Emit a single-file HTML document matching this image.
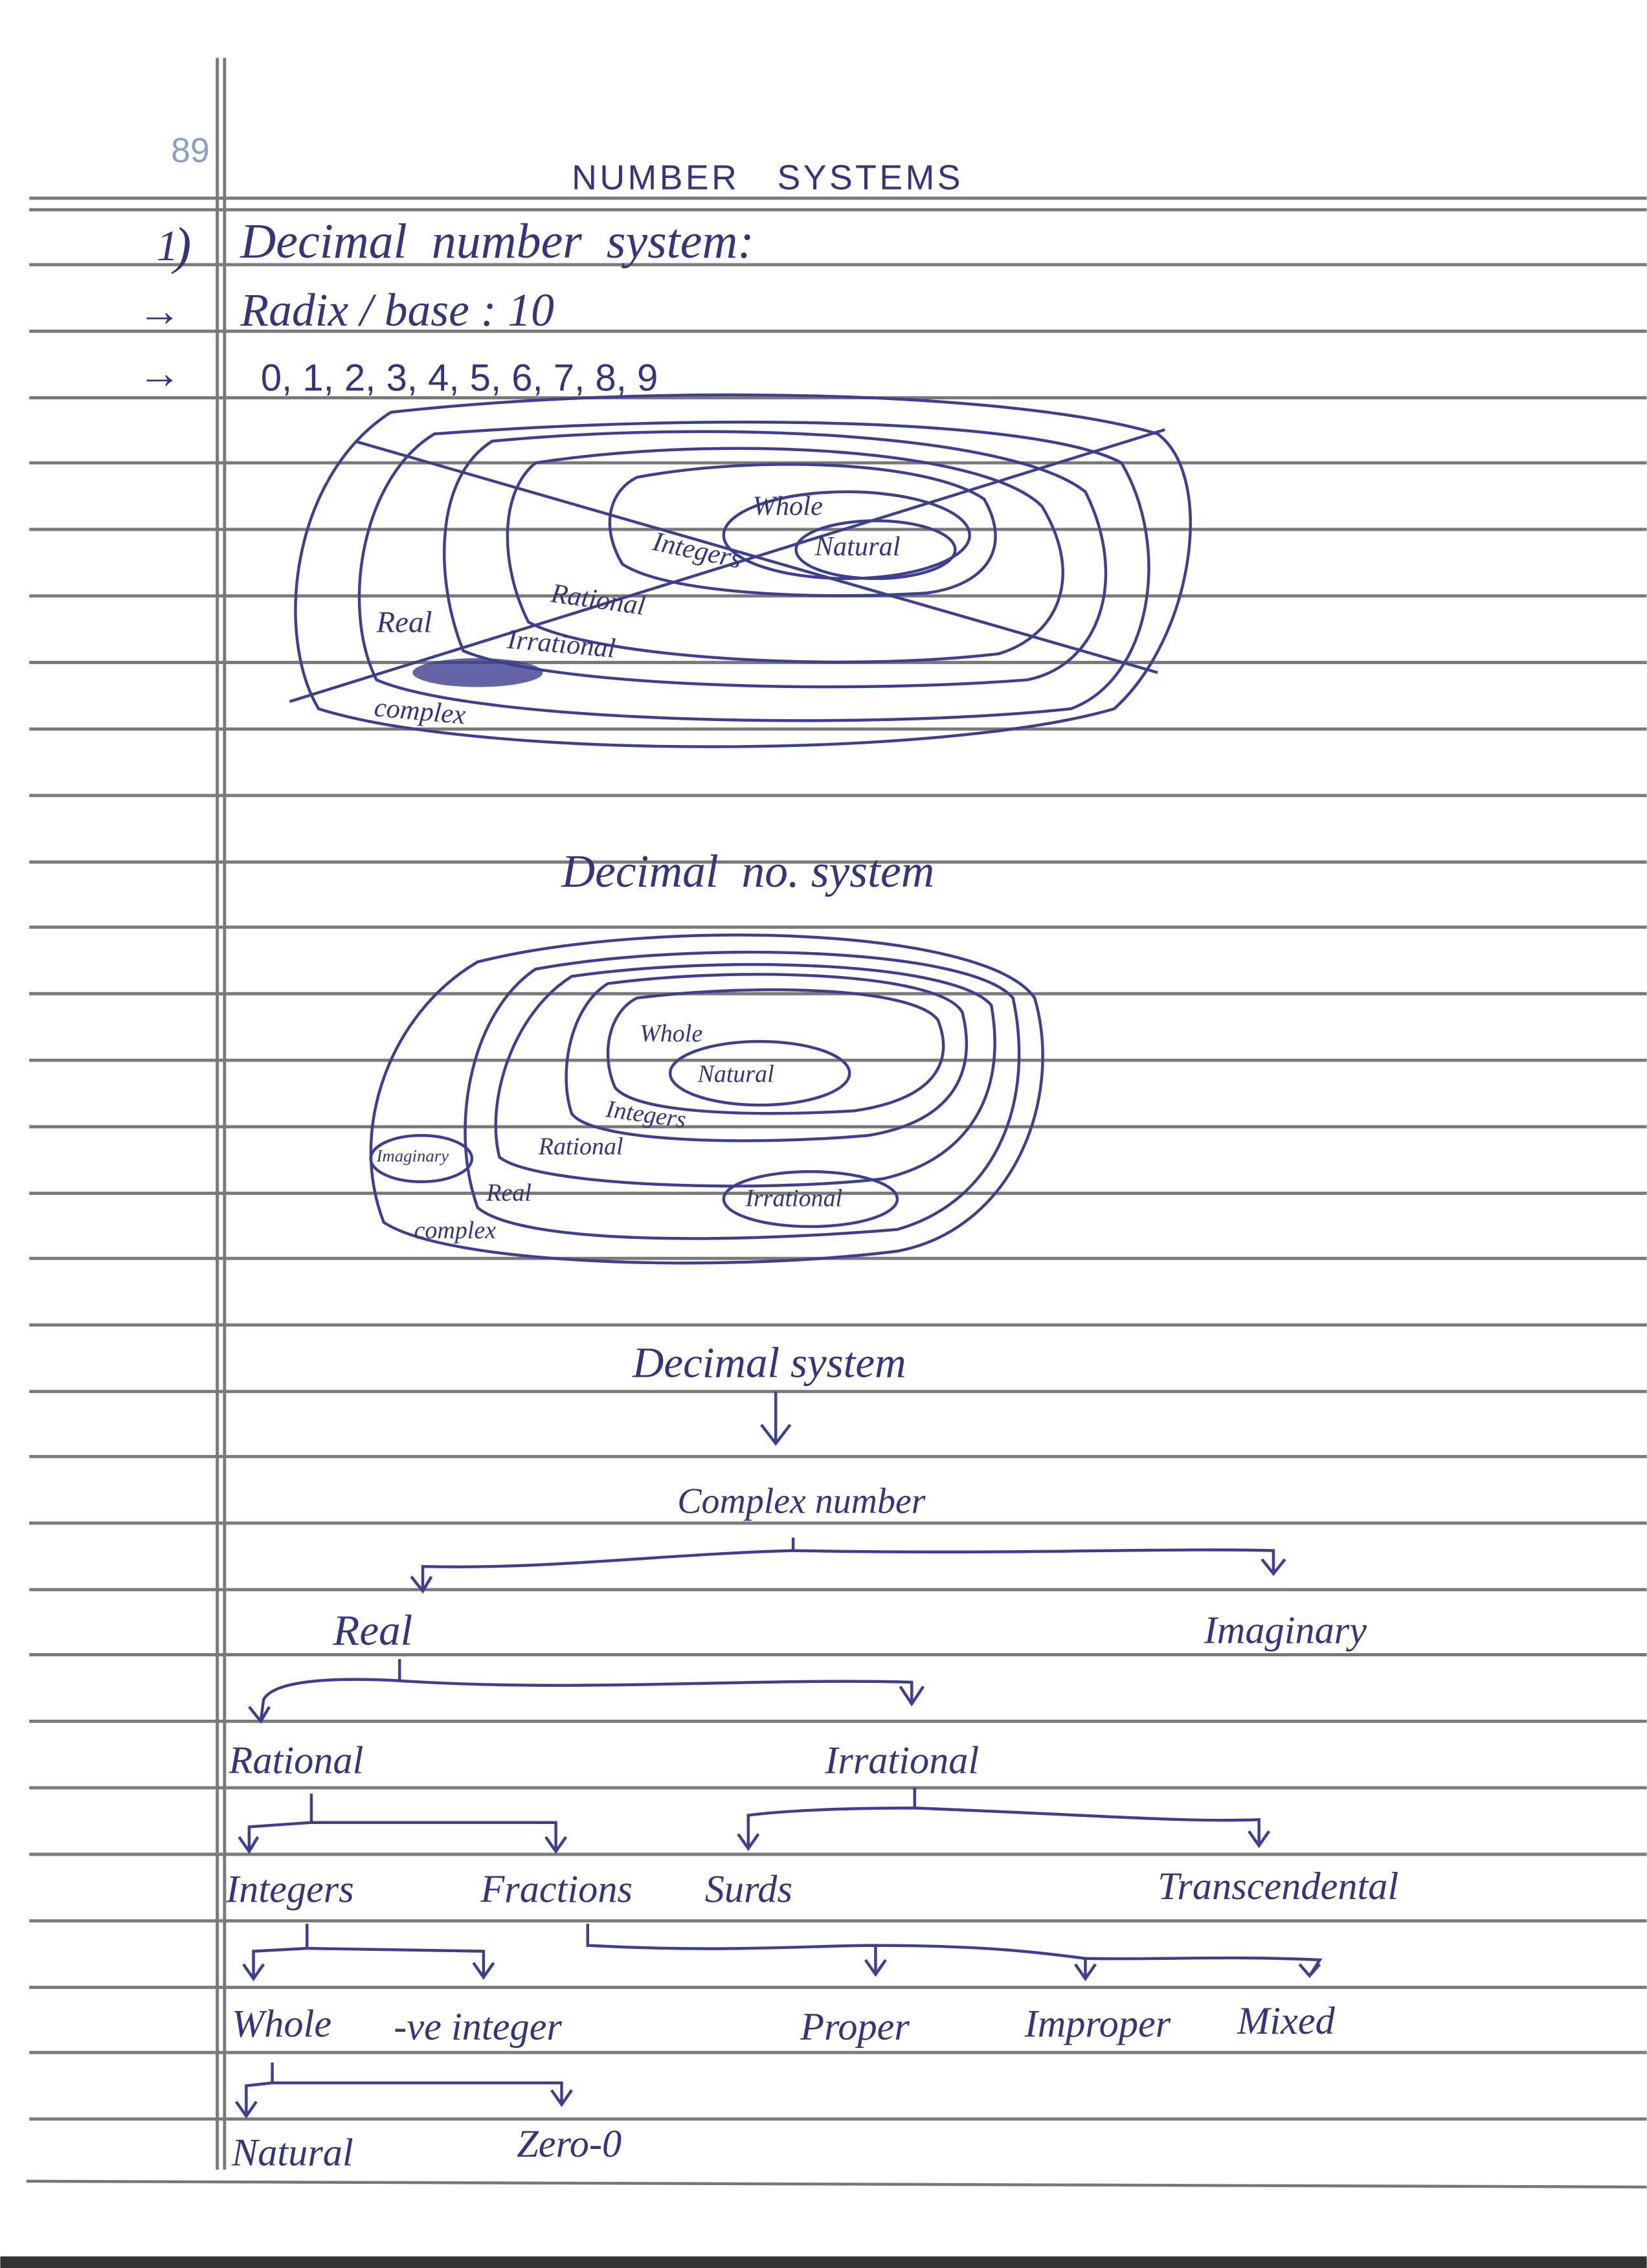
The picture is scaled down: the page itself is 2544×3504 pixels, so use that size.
<!DOCTYPE html>
<html><head><meta charset="utf-8"><style>
html,body{margin:0;padding:0;background:#fff;}
svg{display:block;}
text{font-family:"Liberation Serif",serif;font-style:italic;fill:#35357a;}
.s{font-family:"Liberation Sans",sans-serif;font-style:normal;}
</style></head><body>
<svg width="2544" height="3504" viewBox="0 0 1138 1568" xmlns="http://www.w3.org/2000/svg">
<rect x="0" y="0" width="1138" height="1568" fill="#fff"/>
<rect x="0" y="1560" width="1138" height="8" fill="#333"/>
<path d="M18 1508 L1138 1512" stroke="#777" stroke-width="2"/>
<g stroke="#7a7a7a" stroke-width="2.2">
<line x1="20" y1="137" x2="1138" y2="137"/>
<line x1="20" y1="145" x2="1138" y2="145"/>
<line x1="20" y1="183" x2="1138" y2="183"/><line x1="20" y1="229" x2="1138" y2="229"/>
<line x1="20" y1="275" x2="1138" y2="275"/><line x1="20" y1="320" x2="1138" y2="320"/>
<line x1="20" y1="366" x2="1138" y2="366"/><line x1="20" y1="412" x2="1138" y2="412"/>
<line x1="20" y1="458" x2="1138" y2="458"/><line x1="20" y1="504" x2="1138" y2="504"/>
<line x1="20" y1="550" x2="1138" y2="550"/><line x1="20" y1="596" x2="1138" y2="596"/>
<line x1="20" y1="641" x2="1138" y2="641"/><line x1="20" y1="687" x2="1138" y2="687"/>
<line x1="20" y1="733" x2="1138" y2="733"/><line x1="20" y1="779" x2="1138" y2="779"/>
<line x1="20" y1="825" x2="1138" y2="825"/><line x1="20" y1="870" x2="1138" y2="870"/>
<line x1="20" y1="916" x2="1138" y2="916"/><line x1="20" y1="962" x2="1138" y2="962"/>
<line x1="20" y1="1007" x2="1138" y2="1007"/><line x1="20" y1="1053" x2="1138" y2="1053"/>
<line x1="20" y1="1099" x2="1138" y2="1099"/><line x1="20" y1="1144" x2="1138" y2="1144"/>
<line x1="20" y1="1190" x2="1138" y2="1190"/><line x1="20" y1="1236" x2="1138" y2="1236"/>
<line x1="20" y1="1282" x2="1138" y2="1282"/><line x1="20" y1="1328" x2="1138" y2="1328"/>
<line x1="20" y1="1374" x2="1138" y2="1374"/><line x1="20" y1="1419" x2="1138" y2="1419"/>
<line x1="20" y1="1465" x2="1138" y2="1465"/>
<line x1="150" y1="40" x2="150" y2="1500"/>
<line x1="155" y1="40" x2="155" y2="1500"/>
</g>
<text x="118" y="112" class="s" font-size="24" style="fill:#8aa0c0">89</text>
<text x="395" y="131" class="s" font-size="24" letter-spacing="2">NUMBER&#160;&#160;&#160;SYSTEMS</text>
<text x="108" y="180" font-size="30">1</text><text x="120" y="182" font-size="36">)</text>
<text x="166" y="178" font-size="34">Decimal&#160; number&#160; system:</text>
<text x="95" y="225" font-size="30">→</text>
<text x="166" y="225" font-size="32">Radix / base : 10</text>
<text x="95" y="268" font-size="30">→</text>
<text x="180" y="270" class="s" font-size="26">0, 1, 2, 3, 4, 5, 6, 7, 8, 9</text>
<g fill="none" stroke="#3f3f90" stroke-width="2">
<path d="M270 285 C450 265 700 270 800 300 C840 330 825 440 770 490 C650 525 330 525 220 490 C190 440 200 330 270 285Z"/>
<path d="M300 300 C500 285 720 290 775 320 C810 380 795 470 740 490 C600 505 330 500 260 470 C235 420 250 330 300 300Z"/>
<path d="M340 305 C500 290 700 300 750 340 C780 400 760 460 710 470 C580 480 380 475 320 450 C300 400 300 330 340 305Z"/>
<path d="M370 320 C500 300 680 310 720 350 C750 400 730 440 690 452 C580 465 410 455 365 430 C345 390 345 340 370 320Z"/>
<path d="M440 330 C520 315 640 318 680 345 C700 380 680 405 640 410 C560 415 460 410 430 390 C415 365 420 340 440 330Z"/>
<ellipse cx="585" cy="370" rx="85" ry="30"/>
<ellipse cx="605" cy="380" rx="55" ry="20"/>
<line x1="245" y1="305" x2="800" y2="465"/>
<line x1="200" y1="485" x2="805" y2="297"/>
</g>
<ellipse cx="330" cy="465" rx="45" ry="10" fill="#3f3f90" opacity="0.8"/>
<g font-size="19">
<text x="520" y="356">Whole</text>
<text x="563" y="384">Natural</text>
<text x="450" y="380" transform="rotate(12 450 380)">Integers</text>
<text x="380" y="416" transform="rotate(8 380 416)">Rational</text>
<text x="350" y="448" transform="rotate(5 350 448)">Irrational</text>
<text x="260" y="437" font-size="21">Real</text>
<text x="258" y="495" transform="rotate(5 258 495)">complex</text>
</g>
<text x="388" y="613" font-size="32">Decimal&#160; no. system</text>
<g fill="none" stroke="#3f3f90" stroke-width="2">
<path d="M330 665 C450 635 680 640 715 690 C735 760 700 850 620 865 C500 880 310 875 265 845 C240 780 270 700 330 665Z"/>
<path d="M370 670 C480 650 670 655 700 690 C715 760 690 830 620 850 C500 860 360 860 330 835 C310 780 325 700 370 670Z"/>
<path d="M395 675 C500 660 660 665 685 695 C695 750 675 800 610 815 C520 825 370 820 345 800 C335 760 355 700 395 675Z"/>
<path d="M420 680 C510 668 650 672 665 700 C675 740 660 775 600 785 C520 792 410 790 395 770 C385 740 395 695 420 680Z"/>
<path d="M440 690 C520 680 630 682 648 705 C660 735 645 760 590 768 C520 772 440 770 425 752 C415 730 420 700 440 690Z"/>
<ellipse cx="525" cy="742" rx="62" ry="22"/>
<ellipse cx="291" cy="801" rx="35" ry="16"/>
<ellipse cx="560" cy="829" rx="60" ry="19"/>
</g>
<g font-size="17">
<text x="442" y="720">Whole</text>
<text x="482" y="748">Natural</text>
<text x="418" y="772" transform="rotate(8 418 772)">Integers</text>
<text x="372" y="798">Rational</text>
<text x="260" y="803" font-size="12">Imaginary</text>
<text x="336" y="830">Real</text>
<text x="515" y="834">Irrational</text>
<text x="286" y="856">complex</text>
</g>
<text x="437" y="952" font-size="30">Decimal system</text>
<g fill="none" stroke="#3f3f90" stroke-width="2">
<path d="M536 962 L536 998 M526 985 L536 998 L546 985"/>
<path d="M548 1063 L548 1072 C450 1075 380 1085 292 1083 L292 1100 M284 1090 L292 1100 L298 1090"/>
<path d="M548 1072 C700 1075 800 1070 880 1072 L880 1088 M872 1078 L880 1088 L888 1078"/>
<path d="M276 1147 L276 1162 C240 1160 190 1160 182 1175 L180 1190 M172 1180 L180 1190 L186 1180"/>
<path d="M276 1162 C400 1170 520 1160 630 1163 L630 1178 M622 1166 L630 1178 L638 1166"/>
<path d="M215 1240 L215 1260 L172 1263 L172 1280 M165 1270 L172 1280 L178 1270 M215 1260 L384 1260 L384 1280 M377 1270 L384 1280 L391 1270"/>
<path d="M632 1236 L632 1250 C580 1250 540 1252 517 1255 L517 1278 M510 1268 L517 1278 L524 1268 M632 1250 C760 1255 820 1260 870 1258 L870 1276 M863 1266 L870 1276 L877 1266"/>
<path d="M212 1330 L212 1347 L175 1349 L175 1368 M168 1358 L175 1368 L182 1358 M212 1347 L334 1349 L334 1367 M327 1357 L334 1367 L341 1357"/>
<path d="M406 1330 L406 1345 C500 1350 560 1345 605 1345 L605 1365 M598 1355 L605 1365 L612 1355 M605 1345 C680 1345 720 1350 750 1354 L750 1368 M743 1358 L750 1368 L757 1358 M750 1354 C800 1355 850 1352 912 1355 L905 1366 M898 1358 L905 1366 L912 1358"/>
<path d="M188 1426 L188 1440 L170 1442 L170 1463 M163 1453 L170 1463 L177 1453 M188 1440 L388 1440 L388 1455 M381 1445 L388 1455 L395 1445"/>
</g>
<g font-size="27">
<text x="468" y="1046" font-size="25">Complex number</text>
<text x="230" y="1137" font-size="30">Real</text>
<text x="832" y="1136">Imaginary</text>
<text x="158" y="1226">Rational</text>
<text x="570" y="1226">Irrational</text>
<text x="156" y="1315">Integers</text>
<text x="332" y="1315">Fractions</text>
<text x="487" y="1315">Surds</text>
<text x="800" y="1313">Transcendental</text>
<text x="160" y="1408">Whole</text>
<text x="272" y="1410">-ve integer</text>
<text x="553" y="1410">Proper</text>
<text x="708" y="1408">Improper</text>
<text x="855" y="1406">Mixed</text>
<text x="160" y="1497">Natural</text>
<text x="357" y="1491">Zero-0</text>
</g>
</svg>
</body></html>
